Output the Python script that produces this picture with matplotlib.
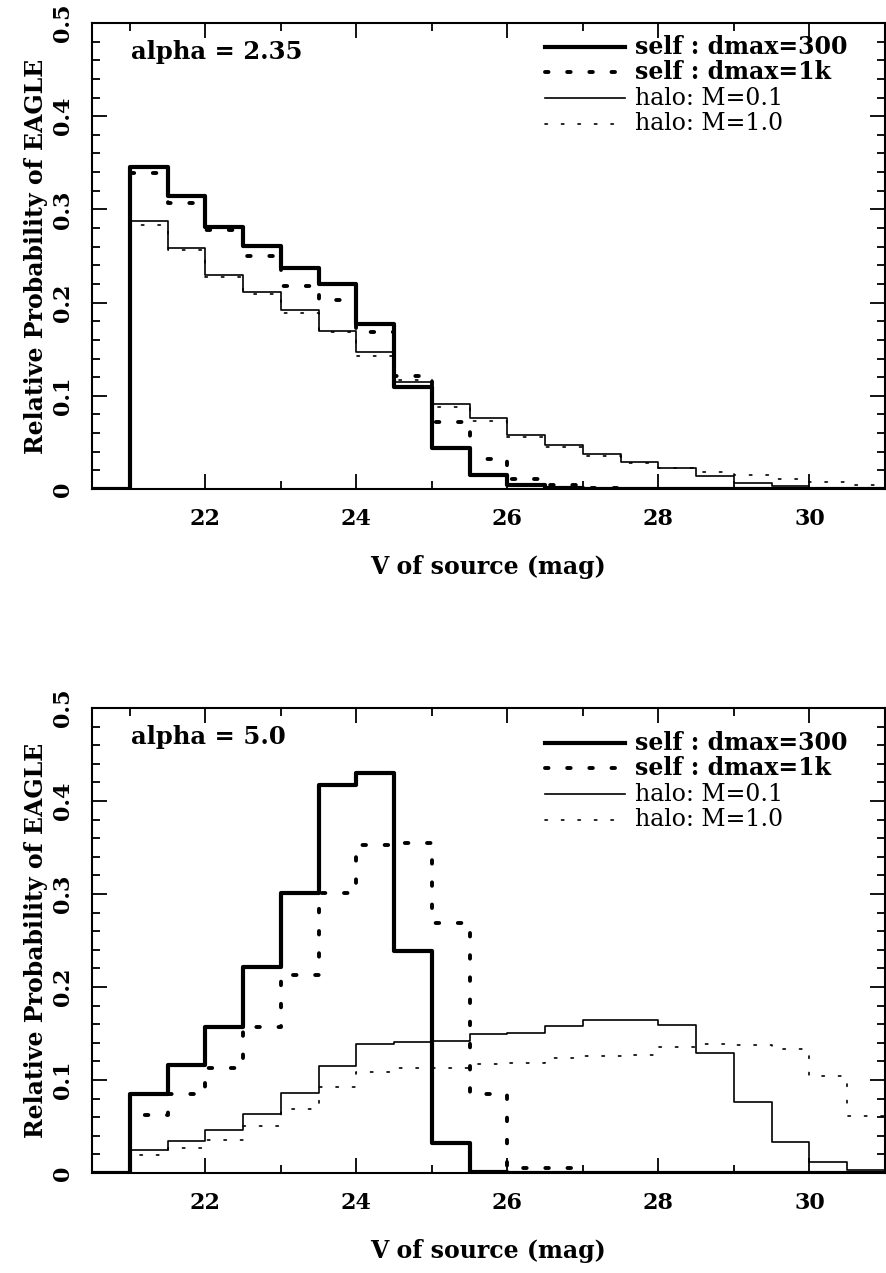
import numpy as np
import matplotlib
matplotlib.use("Agg")
import matplotlib.pyplot as plt
from matplotlib.ticker import MultipleLocator, FuncFormatter

plt.rcParams['font.family'] = ['DejaVu Serif']

# magnitude bins, 0.5 mag wide
mag_edges = np.arange(20.5, 31.01, 0.5)

# alpha = 2.35
self300_a = [0, 0.346, 0.314, 0.281, 0.261, 0.237, 0.220, 0.177, 0.109, 0.044, 0.015,
             0.004, 0.001, 0, 0, 0, 0, 0, 0, 0, 0]
self1k_a = [0, 0.339, 0.307, 0.278, 0.250, 0.218, 0.203, 0.168, 0.121, 0.072, 0.032,
            0.011, 0.004, 0.001, 0, 0, 0, 0, 0, 0, 0]
halo01_a = [0, 0.288, 0.259, 0.230, 0.211, 0.192, 0.169, 0.147, 0.115, 0.091, 0.076,
            0.058, 0.047, 0.037, 0.029, 0.023, 0.014, 0.006, 0.003, 0.001, 0.0]
halo10_a = [0, 0.283, 0.256, 0.227, 0.209, 0.189, 0.168, 0.143, 0.117, 0.088, 0.073,
            0.056, 0.045, 0.035, 0.028, 0.022, 0.018, 0.015, 0.011, 0.007, 0.004]

# alpha = 5.0
self300_b = [0, 0.085, 0.116, 0.157, 0.221, 0.301, 0.417, 0.430, 0.239, 0.032, 0.001,
             0, 0, 0, 0, 0, 0, 0, 0, 0, 0]
self1k_b = [0, 0.062, 0.085, 0.113, 0.157, 0.213, 0.301, 0.353, 0.355, 0.269, 0.085,
            0.005, 0.005, 0, 0, 0, 0, 0, 0, 0, 0]
halo01_b = [0, 0.025, 0.034, 0.046, 0.063, 0.086, 0.115, 0.139, 0.141, 0.142, 0.149,
            0.151, 0.158, 0.164, 0.164, 0.159, 0.129, 0.076, 0.033, 0.012, 0.003]
halo10_b = [0, 0.019, 0.027, 0.035, 0.050, 0.069, 0.092, 0.109, 0.113, 0.113, 0.117,
            0.118, 0.124, 0.126, 0.127, 0.135, 0.139, 0.138, 0.133, 0.104, 0.061]

labels = ["self : dmax=300", "self : dmax=1k", "halo: M=0.1", "halo: M=1.0"]
label_weight = ["heavy", "heavy", "normal", "normal"]
styles = [
    dict(lw=3.0, ls="-"),
    dict(lw=2.8, ls=(0, (0.9, 4.8)), dash_capstyle="round"),
    dict(lw=1.2, ls="-"),
    dict(lw=1.2, ls=(0, (1.4, 8.5)), dash_capstyle="round"),
]


def draw_panel(ax, series, alpha_text, leg_top):
    for vals, st in zip(series, styles):
        yy = np.append(vals, vals[-1])
        ax.step(mag_edges, yy, where="post", color="black", **st)

    ax.set_xlim(20.5, 31)
    ax.set_ylim(0, 0.5)
    ax.xaxis.set_major_locator(MultipleLocator(2))
    ax.xaxis.set_minor_locator(MultipleLocator(1))
    ax.yaxis.set_major_locator(MultipleLocator(0.1))
    ax.yaxis.set_minor_locator(MultipleLocator(0.02))
    ax.yaxis.set_major_formatter(FuncFormatter(lambda v, p: "0" if abs(v) < 1e-9 else f"{v:.1f}"))
    ax.tick_params(which="both", direction="in", top=True, right=True, width=1.3)
    ax.tick_params(which="major", length=11, labelsize=16)
    ax.tick_params(axis="x", which="major", pad=14)
    ax.tick_params(axis="y", which="major", pad=13)
    ax.tick_params(which="minor", length=6)
    for lab in ax.get_xticklabels() + ax.get_yticklabels():
        lab.set_fontweight("bold")
    for lab in ax.get_yticklabels():
        lab.set_rotation(90)
        lab.set_va("center")
    for sp in ax.spines.values():
        sp.set_linewidth(1.5)

    ax.set_xlabel("V of source (mag)", fontsize=17, fontweight="bold", labelpad=18)
    ax.set_ylabel("Relative Probability of EAGLE", fontsize=17, fontweight="bold", labelpad=3)

    ax.text(0.049, 0.937, alpha_text, transform=ax.transAxes, fontsize=17.5,
            fontweight="bold", va="center", ha="left")

    # legend drawn by hand: short line sample then label
    for i, (lab, st, wt) in enumerate(zip(labels, styles, label_weight)):
        y = leg_top - i * 0.055
        ax.plot([0.571, 0.672], [y, y], color="black", transform=ax.transAxes, **st)
        ax.text(0.685, y, lab, transform=ax.transAxes, fontsize=17,
                fontweight=wt, va="center", ha="left")


fig = plt.figure(figsize=(8.87, 12.73), dpi=100)
ax1 = fig.add_axes([0.1037, 0.6159, 0.894, 0.366])
ax2 = fig.add_axes([0.1037, 0.0786, 0.894, 0.3652])

draw_panel(ax1, [self300_a, self1k_a, halo01_a, halo10_a], "alpha = 2.35", 0.949)
draw_panel(ax2, [self300_b, self1k_b, halo01_b, halo10_b], "alpha = 5.0", 0.925)

fig.savefig("out.png", dpi=100)
